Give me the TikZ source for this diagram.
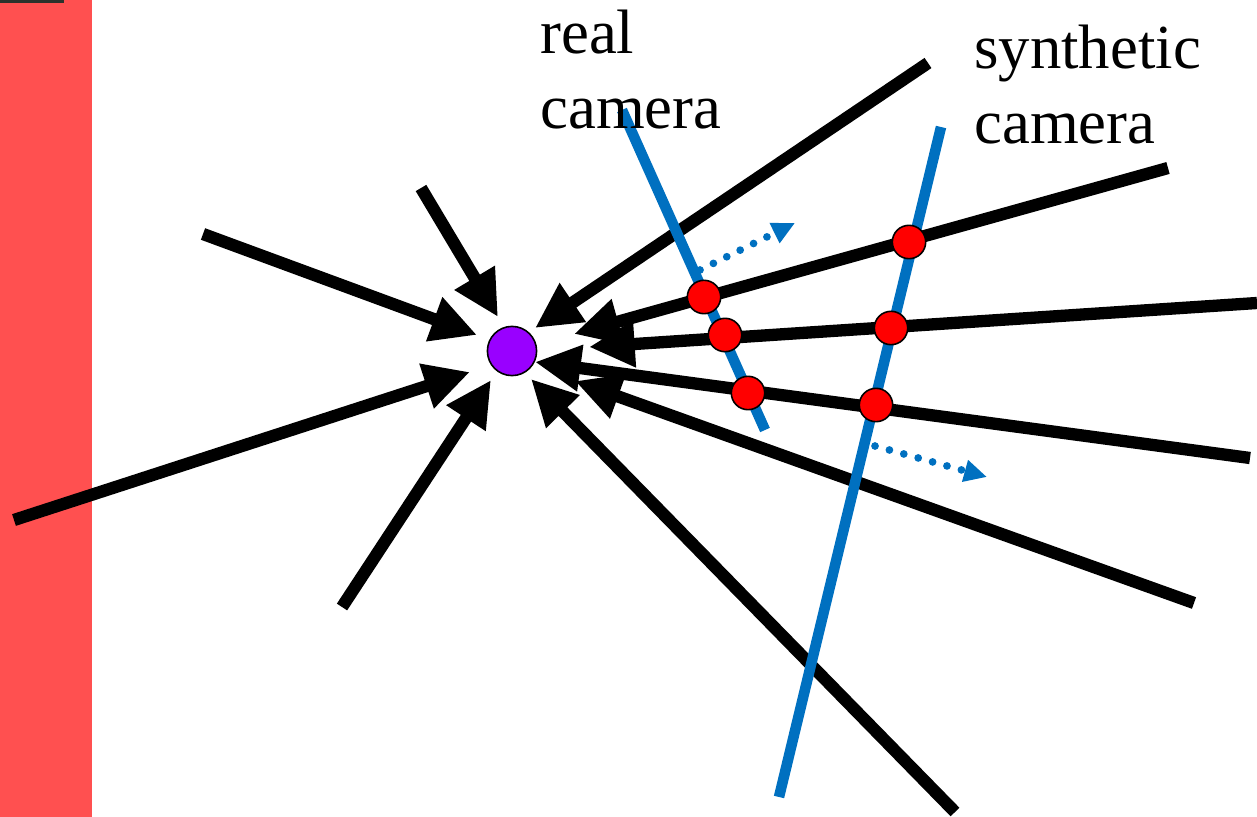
\documentclass[tikz,border=0pt]{standalone}
\usepackage{fontspec}
\setmainfont{Liberation Serif}
\usetikzlibrary{arrows.meta}
\definecolor{bandred}{HTML}{FF5050}
\definecolor{camblue}{HTML}{0070C0}
\definecolor{pointviolet}{HTML}{9900FF}
\definecolor{stripdark}{HTML}{2C322C}

\begin{document}
\begin{tikzpicture}[x=0.02cm, y=-0.02cm,
  ray/.style={line width=7pt, -{Triangle[length=26pt,width=25pt]}},
  cam/.style={camblue, line width=6pt},
  drift/.style={camblue, line width=4.4pt, line cap=round, dash pattern=on 0pt off 8.5pt, -{Triangle[length=13pt,width=12pt]}},
  hit/.style={circle, draw, line width=0.9pt, fill=red, minimum size=19pt, inner sep=0pt},
  camtext/.style={font=\fontsize{35.7}{42.7}\selectfont, align=left, anchor=north west, inner sep=0pt}
]
\useasboundingbox (0,0) rectangle (1257,817);

%% background band
\fill[bandred] (0,0) rectangle (92,817);
\fill[stripdark] (0,0) rectangle (64,3);

%% scene point
\node[circle, draw, line width=0.9pt, fill=pointviolet, minimum size=28pt, inner sep=0pt] (P) at (512,351) {};

%% ray ends
\coordinate (e1) at (421,188);  \coordinate (t1) at (498,317);
\coordinate (e2) at (203,234);  \coordinate (t2) at (477,335);
\coordinate (e3) at (14,520);   \coordinate (t3) at (470,372);
\coordinate (e4) at (342,607);  \coordinate (t4) at (491,380);
\coordinate (e5) at (955,812);  \coordinate (t5) at (531,379);
\coordinate (e6) at (928,63);   \coordinate (t6) at (535,328);
\coordinate (e7) at (1168,168); \coordinate (t7) at (574,334);
\coordinate (e8) at (1257,303); \coordinate (t8) at (589,347);
\coordinate (e9) at (1250,458); \coordinate (t9) at (535,362);
\coordinate (e10) at (1194,603); \coordinate (t10) at (575,381);

%% rays
\foreach \i in {1,...,10}
  \draw[ray] (e\i) -- (t\i);

%% cameras
\coordinate (rtop) at (622,110);
\coordinate (rbot) at (765,430);
\coordinate (stop) at (941,127);
\coordinate (sbot) at (779,797);
\draw[cam] (rtop) -- (rbot);
\draw[cam] (stop) -- (sbot);

%% camera motion
\coordinate (m1) at (700,270); \coordinate (n1) at (795,223);
\coordinate (m2) at (875,446); \coordinate (n2) at (987,477);
\draw[drift] (m1) -- (n1);
\draw[drift] (m2) -- (n2);

%% samples
\node[hit] (r1) at (704,297) {};
\node[hit] (r2) at (725,335) {};
\node[hit] (r3) at (748,393) {};
\node[hit] (s1) at (909,242) {};
\node[hit] (s2) at (891,328) {};
\node[hit] (s3) at (876,405) {};

%% labels
\node[camtext] (realcam) at (540,10) {real\\camera};
\node[camtext] (syncam) at (974,25) {synthetic\\camera};
\end{tikzpicture}
\end{document}
